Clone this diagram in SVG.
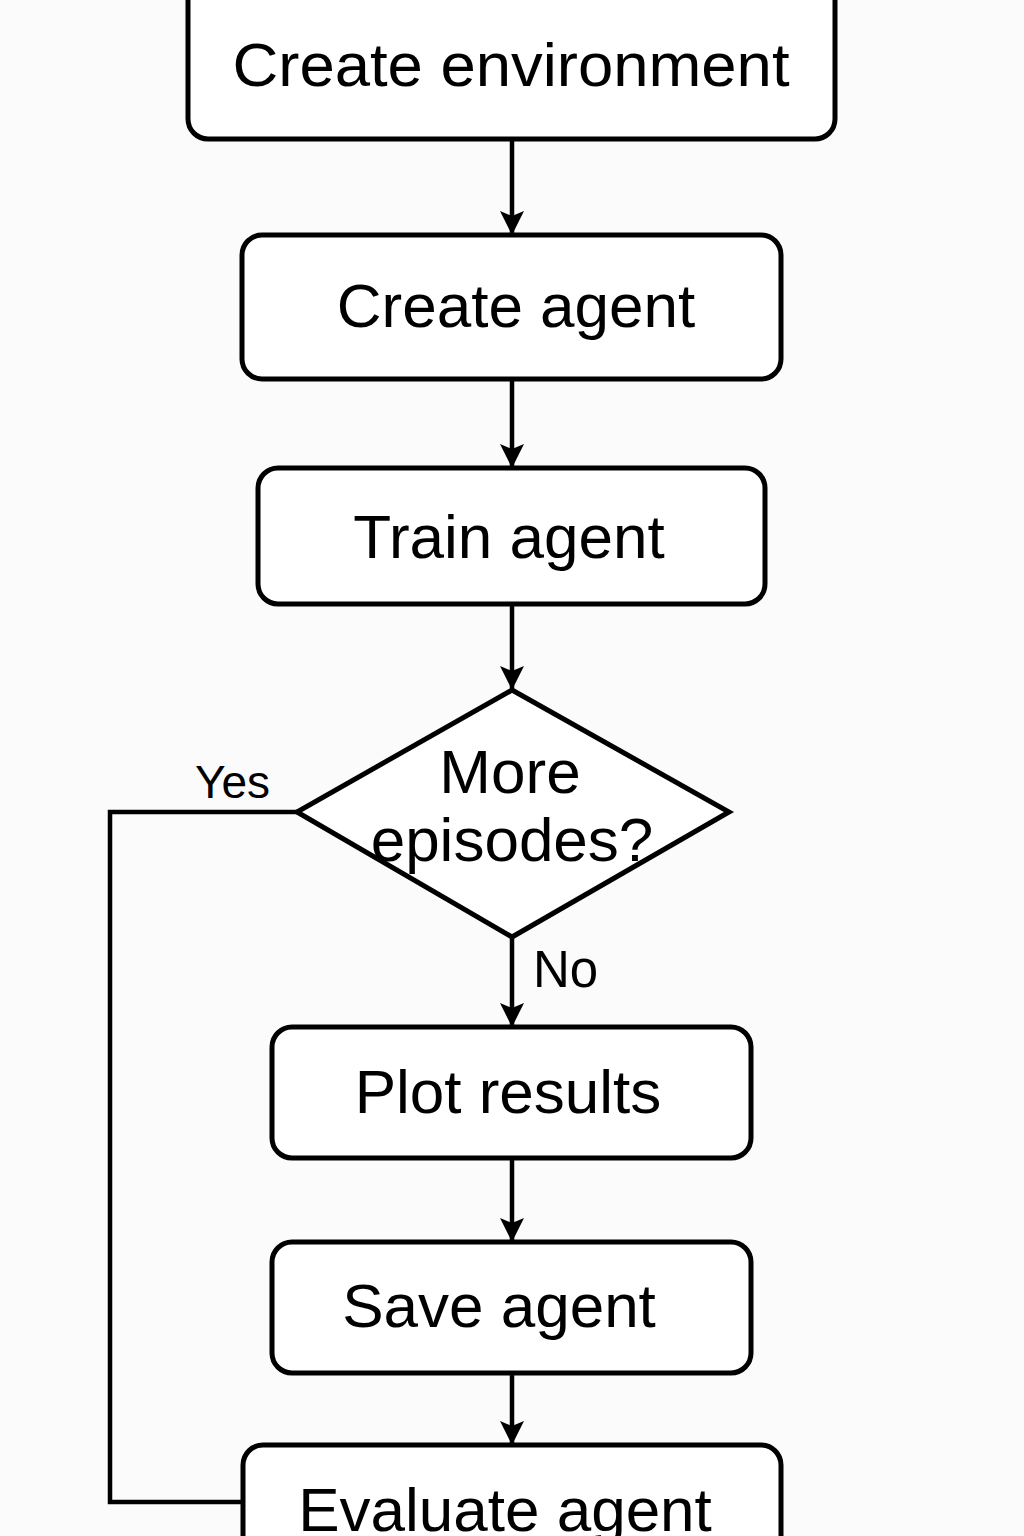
<svg xmlns="http://www.w3.org/2000/svg" width="1024" height="1536" viewBox="0 0 1024 1536">
<defs>
<marker id="arr" markerWidth="24" markerHeight="24" viewBox="0 0 24 24" refX="24" refY="12" orient="auto" markerUnits="userSpaceOnUse">
<path d="M0,0 L24,12 L0,24 L5,12 Z" fill="#000"/>
</marker>
<style>
.box{fill:#fff;stroke:#000;stroke-width:5}
.t{font-family:"Liberation Sans",Arial,sans-serif;font-size:62px;fill:#000;text-anchor:middle}
.lbl{font-family:"Liberation Sans",Arial,sans-serif;font-size:46px;fill:#000}
.c{fill:none;stroke:#000;stroke-width:4.5}
</style>
</defs>
<rect width="1024" height="1536" fill="#fbfbfb"/>
<g id="connectors">
<line class="c" x1="512" y1="139" x2="512" y2="235" marker-end="url(#arr)"/>
<line class="c" x1="512" y1="379" x2="512" y2="468" marker-end="url(#arr)"/>
<line class="c" x1="512" y1="604" x2="512" y2="690" marker-end="url(#arr)"/>
<line class="c" x1="512" y1="937" x2="512" y2="1027" marker-end="url(#arr)"/>
<line class="c" x1="512" y1="1158" x2="512" y2="1242" marker-end="url(#arr)"/>
<line class="c" x1="512" y1="1373" x2="512" y2="1445" marker-end="url(#arr)"/>
<polyline class="c" points="297,812 110,812 110,1502 243,1502"/>
<text class="lbl" x="195" y="798">Yes</text>
<text class="lbl" x="533" y="987" style="font-size:51px">No</text>
</g>
<g id="n-create-env">
<rect class="box" x="188" y="-30" width="647" height="169" rx="20"/>
<text class="t" x="511" y="86" textLength="557" lengthAdjust="spacingAndGlyphs">Create environment</text>
</g>
<g id="n-create-agent">
<rect class="box" x="242" y="235" width="539" height="144" rx="20"/>
<text class="t" x="516" y="327">Create agent</text>
</g>
<g id="n-train">
<rect class="box" x="258" y="468" width="507" height="136" rx="20"/>
<text class="t" x="509" y="558">Train agent</text>
</g>
<g id="n-decision">
<polygon class="box" points="512,690 729,812 512,937 297,812"/>
<text class="t" x="510" y="793">More</text>
<text class="t" x="512" y="861">episodes?</text>
</g>
<g id="n-plot">
<rect class="box" x="272" y="1027" width="479" height="131" rx="20"/>
<text class="t" x="508" y="1113">Plot results</text>
</g>
<g id="n-save">
<rect class="box" x="272" y="1242" width="479" height="131" rx="20"/>
<text class="t" x="499" y="1327">Save agent</text>
</g>
<g id="n-evaluate">
<rect class="box" x="243" y="1445" width="538" height="140" rx="20"/>
<text class="t" x="505" y="1531">Evaluate agent</text>
</g>
</svg>
